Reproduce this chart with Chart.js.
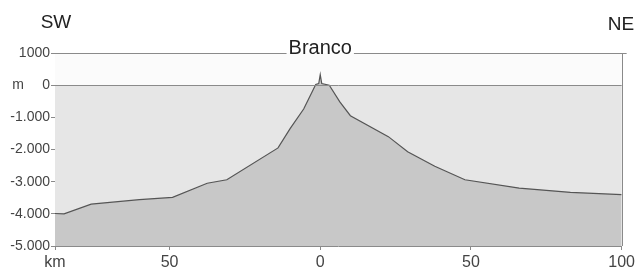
<!DOCTYPE html>
<html>
<head>
<meta charset="utf-8">
<script src="https://cdn.jsdelivr.net/npm/chart.js@4"></script>
<style>
  body { margin: 0; background: #fff; }
  #wrap { width: 638px; height: 271px; }
</style>
</head>
<body>
<div id="wrap"><canvas id="profile"></canvas></div>
<script>
// distance along the section (km, SW negative) and elevation (m)
const km = [-88, -85, -76, -60, -49, -37.5, -31, -14, -10, -5.5, -2.8, -1.5, -0.5, 0, 0.5, 3, 6.5, 10, 22.6, 29, 38, 48, 66, 83, 100];
const elev = [-3990, -4000, -3700, -3560, -3490, -3050, -2940, -1950, -1350, -740, -230, 20, 50, 330, 50, 0, -520, -950, -1600, -2070, -2520, -2940, -3200, -3330, -3400];
const xTicks = [-88, -50, 0, 50, 100];
const yTicks = [-5000, -4000, -3000, -2000, -1000, 0, 1000];
const peakName = 'Branco';

const points = km.map((k, i) => ({ x: k, y: elev[i] }));
const FONT = '"Liberation Sans", Arial, sans-serif';

// light grey sea band under 0, frame lines and the text labels
const frame = {
  id: 'frame',
  beforeDatasetsDraw(chart) {
    const { ctx, chartArea: a, scales: { y } } = chart;
    const y0 = y.getPixelForValue(0);
    ctx.save();
    ctx.fillStyle = '#fbfbfb';
    ctx.fillRect(a.left, a.top, a.right - a.left, y0 - a.top);
    ctx.fillStyle = '#e6e6e6';
    ctx.fillRect(a.left, y0, a.right - a.left, a.bottom - y0);
    ctx.restore();
  },
  afterDatasetsDraw(chart) {
    const { ctx, chartArea: a, scales: { x, y } } = chart;
    const y0 = Math.round(y.getPixelForValue(0)) + 0.5;
    const top = Math.round(a.top) + 0.5;
    const mid = x.getPixelForValue(0);
    ctx.save();
    ctx.strokeStyle = '#8a8a8a';
    ctx.lineWidth = 1;

    ctx.font = '20px ' + FONT;
    const tw = ctx.measureText(peakName).width;
    ctx.beginPath();
    ctx.moveTo(a.left, top); ctx.lineTo(mid - tw / 2 - 2, top);
    ctx.moveTo(mid + tw / 2 + 2, top); ctx.lineTo(a.right + 5, top);
    ctx.moveTo(a.left, y0); ctx.lineTo(a.right, y0);
    ctx.moveTo(Math.round(a.right) + 0.5, top); ctx.lineTo(Math.round(a.right) + 0.5, a.bottom);
    ctx.stroke();

    ctx.fillStyle = '#222';
    ctx.textAlign = 'center';
    ctx.textBaseline = 'middle';
    ctx.fillText(peakName, mid, top - 5);

    ctx.font = '19px ' + FONT;
    ctx.fillText('SW', 56, 23);
    ctx.fillText('NE', 621, 25);

    ctx.font = '14px ' + FONT;
    ctx.fillStyle = '#444';
    ctx.fillText('m', 18, y0);
    ctx.restore();
  }
};

new Chart(document.getElementById('profile'), {
  type: 'line',
  data: {
    datasets: [{
      data: points,
      borderColor: '#555',
      borderWidth: 1.2,
      backgroundColor: '#c8c8c8',
      fill: 'start',
      pointRadius: 0,
      tension: 0
    }]
  },
  options: {
    responsive: true,
    maintainAspectRatio: false,
    animation: false,
    layout: { padding: { top: 53, right: 16, left: 0, bottom: 0 } },
    plugins: { legend: { display: false }, tooltip: { enabled: false } },
    scales: {
      x: {
        type: 'linear',
        min: -88,
        max: 100,
        afterBuildTicks: s => { s.ticks = xTicks.map(v => ({ value: v })); },
        afterFit: s => { s.height = 25; },
        ticks: {
          color: '#444',
          font: { family: FONT, size: 16 },
          padding: 3,
          maxRotation: 0,
          callback: v => v === -88 ? 'km' : String(Math.abs(v))
        },
        grid: { drawOnChartArea: false, tickLength: 4, color: '#8a8a8a' },
        border: { color: '#8a8a8a' }
      },
      y: {
        min: -5000,
        max: 1000,
        afterBuildTicks: s => { s.ticks = yTicks.map(v => ({ value: v })); },
        afterFit: s => { s.width = 55; },
        ticks: {
          color: '#444',
          font: { family: FONT, size: 14 },
          padding: 1,
          callback: v => v === 1000 ? '1000' : (v < 0 ? '-' + (Math.abs(v) / 1000) + '.000' : '0')
        },
        grid: { drawOnChartArea: false, tickLength: 4, color: '#8a8a8a' },
        border: { color: '#8a8a8a' }
      }
    }
  },
  plugins: [frame]
});
</script>
</body>
</html>
